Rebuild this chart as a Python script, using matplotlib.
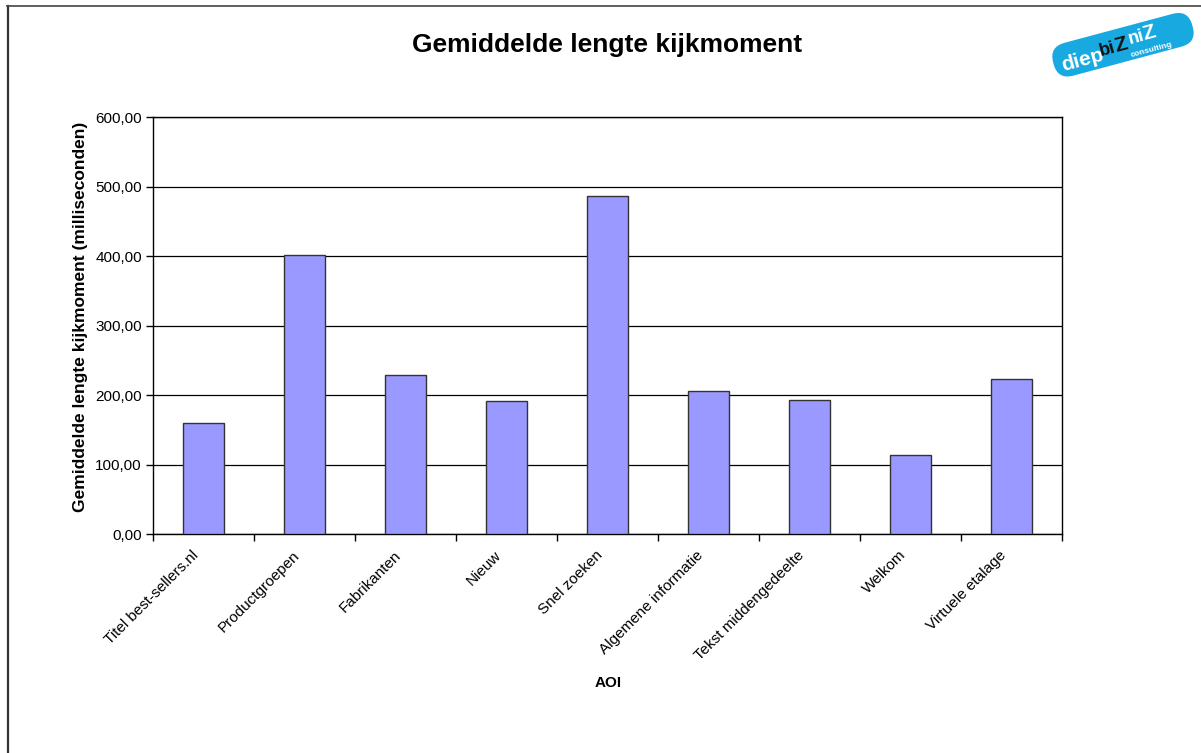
import numpy as np
import matplotlib.pyplot as plt
from matplotlib.patches import FancyBboxPatch
from matplotlib.lines import Line2D
import matplotlib.transforms as mtransforms

plt.rcParams['font.family'] = ['Liberation Sans', 'DejaVu Sans']

# ---------------------------------------------------------------------------
# data
# ---------------------------------------------------------------------------
aoi = [
    "Titel best-sellers.nl",
    "Productgroepen",
    "Fabrikanten",
    "Nieuw",
    "Snel zoeken",
    "Algemene informatie",
    "Tekst middengedeelte",
    "Welkom",
    "Virtuele etalage",
]
duur_ms = [159, 401, 229, 191, 487, 206, 193, 114, 223]
y_ticks = [0, 100, 200, 300, 400, 500, 600]

W, H = 1201, 753
fig = plt.figure(figsize=(W / 100, H / 100), dpi=100)

# outer frame of the sheet (left and top edge only)
fig.add_artist(Line2D([7.5 / W, 7.5 / W], [0, 1 - 5.5 / H], transform=fig.transFigure,
                      color="#333333", lw=1.6))
fig.add_artist(Line2D([7 / W, 1], [1 - 5.5 / H, 1 - 5.5 / H], transform=fig.transFigure,
                      color="#444444", lw=1.2))

ax = fig.add_axes([153 / W, 1 - 534 / H, (1062 - 153) / W, (534 - 117) / H])

x = np.arange(len(aoi))
ax.bar(x, duur_ms, width=0.4, color="#9999FF", edgecolor="#333333", linewidth=1.0, zorder=3)

ax.set_xlim(-0.5, len(aoi) - 0.5)
ax.set_ylim(0, 600)
ax.set_yticks(y_ticks)
ax.set_yticklabels([f"{v:.2f}".replace(".", ",") for v in y_ticks], fontsize=11)
ax.yaxis.grid(True, color="black", linewidth=0.9, zorder=0)
ax.tick_params(axis="y", direction="out", length=5, width=1, pad=3)

# category labels at centres, tick marks on the category boundaries
ax.set_xticks(x)
ax.set_xticks(np.arange(-0.5, len(aoi)), minor=True)
ax.tick_params(axis="x", which="major", length=0, pad=10)
ax.tick_params(axis="x", which="minor", direction="out", length=5, width=1)
ax.set_xticklabels(aoi, rotation=45, ha="right", rotation_mode="anchor", fontsize=11)
shift = mtransforms.ScaledTranslation(-12 / 100, 0, fig.dpi_scale_trans)
for lbl in ax.get_xticklabels():
    lbl.set_transform(lbl.get_transform() + shift)

for side in ax.spines.values():
    side.set_color("black")
    side.set_linewidth(1.0)

ax.set_ylabel("Gemiddelde lengte kijkmoment (milliseconden)", fontsize=12.5,
              fontweight="bold")
ax.yaxis.set_label_coords(-0.071, 0.52)
fig.text(608 / W, 1 - 683 / H, "AOI", ha="center", va="center", fontsize=11,
         fontweight="bold")
fig.text(607 / W, 1 - 45 / H, "Gemiddelde lengte kijkmoment", ha="center", va="center",
         fontsize=19, fontweight="bold")

# company logo, top right
lax = fig.add_axes([1040 / W, 1 - 85 / H, 161 / W, 80 / H])
lax.set_xlim(0, 161)
lax.set_ylim(0, 80)
lax.axis("off")
ang = 15
rot = mtransforms.Affine2D().rotate_deg_around(82, 40, ang) + lax.transData
badge = FancyBboxPatch((14, 26), 138, 28, boxstyle="round,pad=3,rounding_size=16",
                       facecolor="#19A9E1", edgecolor="none", transform=rot)
lax.add_patch(badge)
logo_parts = [
    ("diep", 18, 36, "white", 15),
    ("bi", 59, 39, "#111111", 13),
    ("Z", 75, 40, "#111111", 15),
    ("ni", 90, 43, "white", 13),
    ("Z", 105, 44, "white", 15),
]
for txt, px, py, col, fs in logo_parts:
    lax.text(px, py, txt, color=col, fontsize=fs, fontweight="bold", ha="left",
             va="center", rotation=ang, rotation_mode="anchor", transform=rot)
lax.text(88, 27, "consulting", color="white", fontsize=6, fontweight="bold",
         ha="left", va="center", rotation=ang, rotation_mode="anchor", transform=rot)

fig.savefig("out.png", dpi=100)
